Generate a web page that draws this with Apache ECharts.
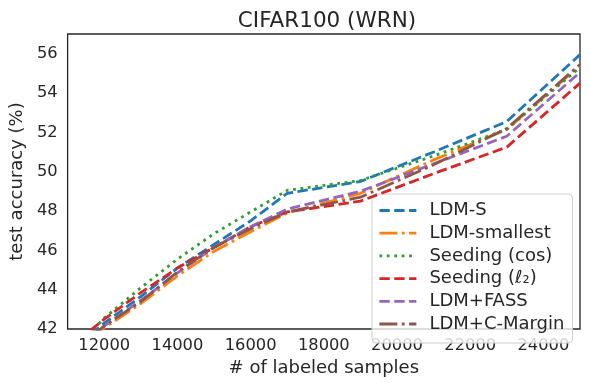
<!DOCTYPE html>
<html>
<head>
<meta charset="utf-8">
<script src="https://cdn.jsdelivr.net/npm/echarts@6/dist/echarts.min.js"></script>
<style>html,body{margin:0;padding:0;background:#fff}#c{width:590px;height:390px}</style>
</head>
<body>
<div id="c"></div>
<script>
const samples = [11000, 12000, 13000, 14000, 15000, 16000, 17000, 19000, 21000, 23000, 25000];
const ldmS        = [40.8, 42.3, 43.65, 45.1, 46.3, 47.5, 48.9, 49.5, 51.0, 52.55, 55.95];
const ldmSmallest = [40.6, 42.05, 43.3, 44.7, 45.95, 46.95, 47.9, 48.9, 50.6, 52.15, 55.4];
const seedingCos  = [40.65, 42.55, 44.1, 45.55, 46.85, 47.95, 49.05, 49.55, 50.8, 52.15, 55.3];
const seedingL2   = [41.0, 42.5, 43.85, 45.1, 46.15, 47.2, 47.95, 48.5, 49.9, 51.25, 54.5];
const ldmFass     = [40.7, 42.15, 43.45, 44.85, 46.15, 47.2, 48.1, 49.0, 50.4, 51.8, 55.05];
const ldmCMargin  = [40.7, 42.15, 43.4, 44.9, 46.15, 47.1, 47.95, 48.7, 50.35, 52.2, 55.45];
const seriesNames = ['LDM-S', 'LDM-smallest', 'Seeding (cos)', 'Seeding (ℓ₂)', 'LDM+FASS', 'LDM+C-Margin'];
const yTicks = [42, 44, 46, 48, 50, 52, 54, 56];

const colors = ['#1f77b4', '#ff7f0e', '#2ca02c', '#d62728', '#9467bd', '#8c564b'];
const lw = 2.8;
const dashed = [3.7 * lw, 1.6 * lw];
const dashdot = [6.4 * lw, 1.6 * lw, 1 * lw, 1.6 * lw];
const dotted = [1 * lw, 1.65 * lw];
const styles = [dashed, dashdot, dotted, dashed, dashed, dashdot];
const values = [ldmS, ldmSmallest, seedingCos, seedingL2, ldmFass, ldmCMargin];

const font = 'DejaVu Sans';
const txt = '#262626';

const chart = echarts.init(document.getElementById('c'), null, {renderer: 'canvas'});
chart.setOption({
  animation: false,
  title: {
    text: 'CIFAR100 (WRN)',
    left: 322, top: 5, textAlign: 'center',
    textStyle: {fontFamily: font, fontSize: 21.5, fontWeight: 'normal', color: txt}
  },
  grid: {left: 65, right: 10, top: 34, bottom: 61, show: true, borderColor: txt, borderWidth: 1.3, backgroundColor: 'transparent'},
  legend: {
    orient: 'vertical', left: 372, top: 194,
    data: seriesNames,
    itemWidth: 37, itemHeight: 14, itemGap: 4.7,
    padding: [7.5, 8, 10, 6],
    backgroundColor: 'rgba(255,255,255,0.8)',
    borderColor: '#cccccc', borderWidth: 1, borderRadius: 4,
    itemStyle: {opacity: 0},
    lineStyle: {width: 2.8},
    textStyle: {fontFamily: font, fontSize: 18, color: txt, lineHeight: 14, padding: [0, 0, 0, 8]}
  },
  xAxis: {
    type: 'value', min: 11000, max: 25000, interval: 1000,
    name: '# of labeled samples', nameLocation: 'middle', nameGap: 30,
    nameTextStyle: {fontFamily: font, fontSize: 18, color: txt},
    axisLine: {show: false}, axisTick: {show: false}, splitLine: {show: false},
    axisLabel: {
      fontFamily: font, fontSize: 16.3, color: txt, margin: 9,
      formatter: v => (v % 2000 === 0 ? String(v) : '')
    }
  },
  yAxis: {
    type: 'value', min: 42, max: 57, interval: 2,
    name: 'test accuracy (%)', nameLocation: 'middle', nameGap: 38,
    nameTextStyle: {fontFamily: font, fontSize: 18, color: txt},
    axisLine: {show: false}, axisTick: {show: false}, splitLine: {show: false},
    axisLabel: {
      fontFamily: font, fontSize: 16.3, color: txt, margin: 10, showMaxLabel: false,
      formatter: v => (yTicks.includes(v) ? String(v) : '')
    }
  },
  series: seriesNames.map((n, i) => ({
    name: n, type: 'line', symbol: 'none', showSymbol: false,
    data: samples.map((x, j) => [x, values[i][j]]),
    lineStyle: {color: colors[i], width: lw, type: styles[i]},
    itemStyle: {color: colors[i]},
    clip: true, z: 2 + i
  }))
});
</script>
</body>
</html>
